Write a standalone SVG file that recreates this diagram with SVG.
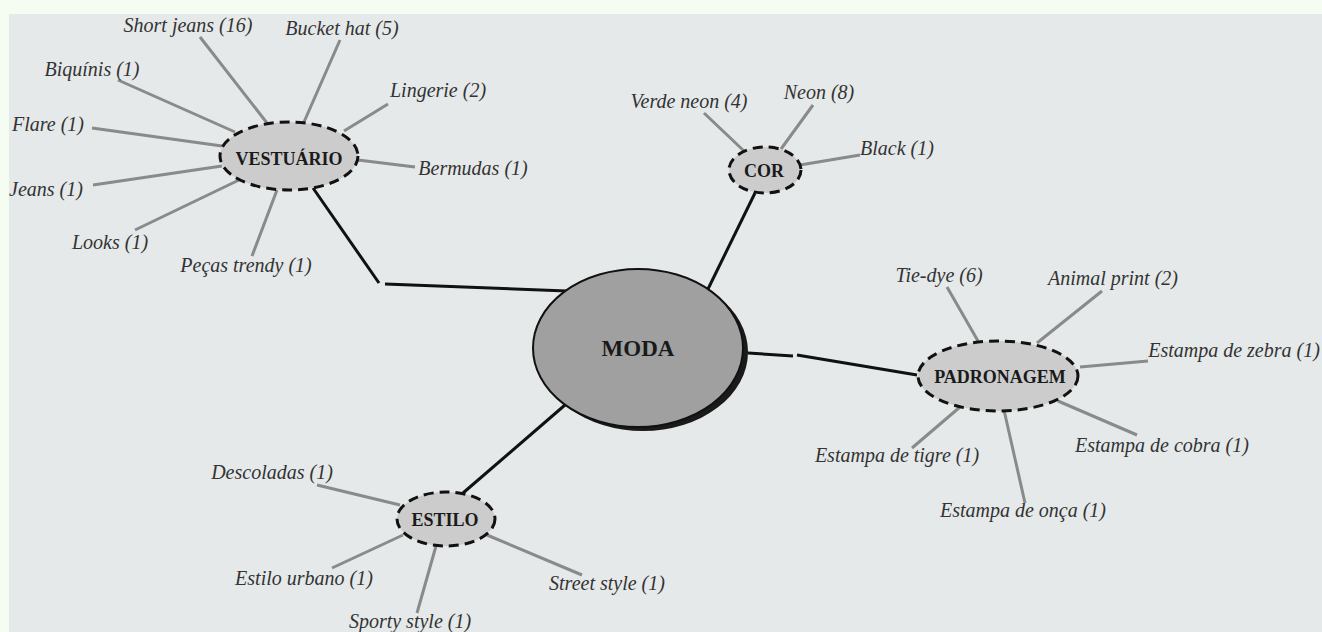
<svg xmlns="http://www.w3.org/2000/svg" width="1322" height="632" viewBox="0 0 1322 632">
<style>
.lbl{font-family:"Liberation Serif",serif;font-style:italic;font-size:20px;fill:#333;text-anchor:middle}
.ttl{font-family:"Liberation Serif",serif;font-weight:bold;font-size:18px;fill:#1a1a1a;text-anchor:middle}
.big{font-size:23px}
.sub{fill:#cccccc;stroke:#111;stroke-width:3;stroke-dasharray:10 6}
.leaf{stroke:#8a8a8a;stroke-width:3;fill:none}
.main{stroke:#111;stroke-width:3;fill:none}
</style>
<rect x="0" y="0" width="1322" height="632" fill="#f5fcf2"/>
<rect x="9" y="14" width="1313" height="618" fill="#e5e9ea"/>
<g id="connectors">
<path class="main" d="M313 188 L379 283 M385 284 L567 291"/>
<path class="main" d="M755 193 L708 289"/>
<path class="main" d="M748 353 L793 356 M797 355 L917 375"/>
<path class="main" d="M463 493 L565 405"/>
<path class="leaf" d="M200 37 L267 123 M340 40 L304 122 M118 80 L235 132 M92 128 L222 146 M93 185 L222 166 M135 230 L239 180 M252 256 L277 190 M388 104 L344 131 M415 167 L358 160"/>
<path class="leaf" d="M704 113 L744 151 M813 105 L781 149 M860 155 L800 165"/>
<path class="leaf" d="M947 287 L978 341 M1102 291 L1037 343 M1148 361 L1080 367 M1137 435 L1058 401 M1025 503 L1004 410 M912 448 L960 407"/>
<path class="leaf" d="M317 485 L400 505 M332 568 L403 535 M417 613 L436 546 M582 575 L487 535"/>
</g>
<g id="moda">
<ellipse cx="643" cy="352" rx="105" ry="79" fill="#1a1a1a"/>
<ellipse cx="638" cy="348" rx="105" ry="79" fill="#a0a0a0" stroke="#111" stroke-width="2"/>
<text class="ttl big" x="638" y="356">MODA</text>
</g>
<g id="vestuario">
<ellipse class="sub" cx="289" cy="156" rx="69" ry="34"/>
<text class="ttl" x="289" y="165">VESTUÁRIO</text>
<text class="lbl" x="188" y="32">Short jeans (16)</text>
<text class="lbl" x="342" y="35">Bucket hat (5)</text>
<text class="lbl" x="92" y="76">Biquínis (1)</text>
<text class="lbl" x="48" y="131">Flare (1)</text>
<text class="lbl" x="46" y="196">Jeans (1)</text>
<text class="lbl" x="110" y="249">Looks (1)</text>
<text class="lbl" x="246" y="272">Peças trendy (1)</text>
<text class="lbl" x="438" y="97">Lingerie (2)</text>
<text class="lbl" x="473" y="175">Bermudas (1)</text>
</g>
<g id="cor">
<ellipse class="sub" cx="765" cy="170" rx="36" ry="23"/>
<text class="ttl" x="764" y="177">COR</text>
<text class="lbl" x="689" y="108">Verde neon (4)</text>
<text class="lbl" x="819" y="99">Neon (8)</text>
<text class="lbl" x="897" y="155">Black (1)</text>
</g>
<g id="padronagem">
<ellipse class="sub" cx="998" cy="376" rx="80" ry="35"/>
<text class="ttl" x="1000" y="383">PADRONAGEM</text>
<text class="lbl" x="939" y="282">Tie-dye (6)</text>
<text class="lbl" x="1113" y="285">Animal print (2)</text>
<text class="lbl" x="1234" y="357">Estampa de zebra (1)</text>
<text class="lbl" x="1162" y="452">Estampa de cobra (1)</text>
<text class="lbl" x="1023" y="517">Estampa de onça (1)</text>
<text class="lbl" x="897" y="462">Estampa de tigre (1)</text>
</g>
<g id="estilo">
<ellipse class="sub" cx="446" cy="519" rx="49" ry="27"/>
<text class="ttl" x="445" y="526">ESTILO</text>
<text class="lbl" x="272" y="479">Descoladas (1)</text>
<text class="lbl" x="304" y="585">Estilo urbano (1)</text>
<text class="lbl" x="410" y="628">Sporty style (1)</text>
<text class="lbl" x="607" y="590">Street style (1)</text>
</g>
</svg>
